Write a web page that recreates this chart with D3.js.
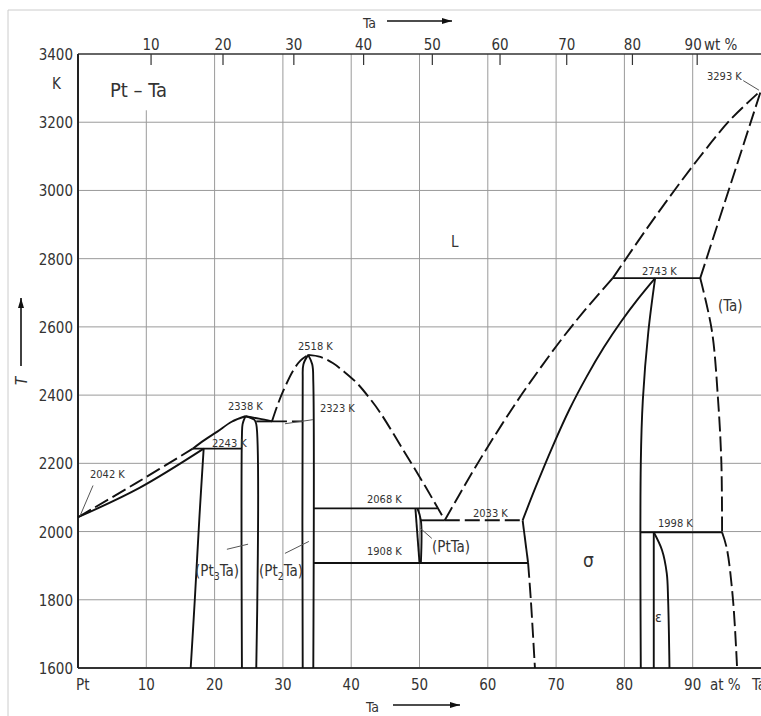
<!DOCTYPE html>
<html>
<head>
<meta charset="utf-8">
<script src="https://cdn.jsdelivr.net/npm/d3@7"></script>
<style>
body { margin: 0; background: #fff; }
text { font-family: "DejaVu Sans Condensed", "Liberation Sans Narrow", sans-serif; fill: #333; }
</style>
</head>
<body>
<svg width="761" height="716"></svg>
<script>
var svg = d3.select('svg');

// ---- data (at.% Ta, K) ----
var tempTicks = [1600, 1800, 2000, 2200, 2400, 2600, 2800, 3000, 3200, 3400];
var atTicks = [10, 20, 30, 40, 50, 60, 70, 80, 90];
var wtTicks = [10, 20, 30, 40, 50, 60, 70, 80, 90];

// liquidus
var liqPt      = [[0, 2042], [8.5, 2142], [16.8, 2243]];
var liqPt3TaL  = [[16.8, 2243], [18.5, 2268], [20.4, 2293], [22.5, 2322], [24.5, 2338]];
var liqPt3TaR  = [[24.5, 2338], [26.5, 2331], [28.4, 2323]];
var liqPt2TaL  = [[28.4, 2323], [29.2, 2370], [30.0, 2410], [31.5, 2472], [32.6, 2502], [33.7, 2518]];
var liqPt2TaR  = [[33.7, 2518], [35.5, 2512], [37.3, 2494], [39, 2468], [40.8, 2436], [42.5, 2396], [44.2, 2350], [47.5, 2243], [50.8, 2134], [53.7, 2033]];
var liqTaLow   = [[53.7, 2033], [56, 2114], [59, 2216], [62, 2312], [65, 2403], [68, 2488], [71, 2569], [74, 2644], [78.3, 2743]];
var liqTaHigh  = [[78.3, 2743], [83, 2880], [87.5, 3005], [91.5, 3110], [95.5, 3207], [100, 3293]];
// solidus / solvus / phase boundaries
var solPt      = [[0, 2042], [9, 2128], [18.4, 2243]];
var solvPt     = [[18.4, 2243], [17.8, 2050], [17.1, 1800], [16.5, 1600]];
var pt3TaL     = [[24.5, 2338], [24.1, 2315], [24.0, 2280], [24.0, 1600]];
var pt3TaR     = [[24.5, 2338], [25.8, 2328], [26.1, 2315], [26.1, 1600]];
var pt2TaL     = [[33.7, 2518], [33.0, 2490], [32.9, 2440], [32.9, 1600]];
var pt2TaR     = [[33.7, 2518], [34.3, 2490], [34.45, 2440], [34.45, 1600]];
var ptTaL      = [[49.4, 2068], [50.0, 1908]];
var ptTaR      = [[49.7, 2068], [50.2, 2033], [50.2, 1908]];
var sigmaL     = [[84.5, 2743], [82, 2682], [79.5, 2615], [77, 2540], [74.5, 2455], [72, 2360], [69.5, 2250], [67, 2130], [65.1, 2033]];
var sigmaLMid  = [[65.1, 2033], [65.9, 1908]];
var sigmaLLow  = [[65.9, 1908], [66.3, 1800], [66.9, 1600]];
var sigmaR     = [[84.5, 2743], [83.5, 2585], [82.7, 2386], [82.4, 2200], [82.4, 1600]];
var epsL       = [[84.3, 1998], [84.3, 1600]];
var epsR       = [[84.3, 1998], [85.5, 1946], [86.2, 1878], [86.4, 1800], [86.6, 1600]];
var solTa      = [[91.1, 2743], [100, 3293]];
var solvTaHigh = [[91.1, 2743], [92.8, 2590], [93.7, 2390], [94.2, 2200], [94.3, 1998]];
var solvTaLow  = [[94.3, 1998], [95.0, 1950], [95.9, 1800], [96.5, 1600]];
// invariant horizontals
var iso2243    = [[16.8, 2243], [24.0, 2243]];
var iso2323a   = [[26.1, 2323], [28.4, 2323]];
var iso2323b   = [[28.4, 2323], [32.9, 2323]];
var iso2068    = [[34.45, 2068], [52.6, 2068]];
var iso2033a   = [[50.2, 2033], [53.7, 2033]];
var iso2033b   = [[53.7, 2033], [65.1, 2033]];
var iso1908    = [[34.45, 1908], [65.9, 1908]];
var iso2743    = [[78.3, 2743], [91.1, 2743]];
var iso1998    = [[82.4, 1998], [94.3, 1998]];

var solidLines = [solPt, solvPt, liqPt3TaL, liqPt3TaR, pt3TaL, pt3TaR, pt2TaL, pt2TaR, ptTaL, ptTaR,
                  sigmaL, sigmaLMid, sigmaR, epsL, epsR, iso2243, iso2323a, iso2068, iso2033a, iso1908, iso2743, iso1998];
var dashedLines = [liqPt, liqPt2TaL, liqPt2TaR, liqTaLow, liqTaHigh, solTa, solvTaHigh, solvTaLow,
                   sigmaLLow, iso2323b, iso2033b];

// ---- scales ----
var x = d3.scaleLinear().domain([0, 100]).range([78, 761]);
var y = d3.scaleLinear().domain([1600, 3400]).range([668, 54]);

function wtToAt(w) {
    var a = w / 180.95, b = (100 - w) / 195.08;
    return 100 * a / (a + b);
}

// outer light frame
svg.append('line').attr('x1', 8).attr('x2', 8).attr('y1', 10).attr('y2', 716).attr('stroke', '#ccc');
svg.append('line').attr('x1', 8).attr('x2', 761).attr('y1', 10).attr('y2', 10).attr('stroke', '#ccc');

// grid
var grid = svg.append('g').attr('stroke', '#9a9a9a').attr('stroke-width', 1);
grid.selectAll('.hg').data(tempTicks.slice(1, -1)).enter().append('line')
    .attr('x1', x(0)).attr('x2', x(100))
    .attr('y1', function(d) { return y(d); }).attr('y2', function(d) { return y(d); });
grid.selectAll('.vg').data(atTicks).enter().append('line')
    .attr('x1', function(d) { return x(d); }).attr('x2', function(d) { return x(d); })
    .attr('y1', function(d) { return d == 10 ? y(3235) : y(3400); }).attr('y2', y(1600));

// wt% ticks at top
svg.append('g').selectAll('line').data(wtTicks).enter().append('line')
    .attr('x1', function(d) { return x(wtToAt(d)); }).attr('x2', function(d) { return x(wtToAt(d)); })
    .attr('y1', y(3400)).attr('y2', y(3400) + 11)
    .attr('stroke', '#333').attr('stroke-width', 1.2);

// frame
svg.append('line').attr('x1', x(0)).attr('x2', x(100)).attr('y1', y(3400)).attr('y2', y(3400)).attr('stroke', '#333').attr('stroke-width', 1.6);
svg.append('line').attr('x1', x(0)).attr('x2', x(100)).attr('y1', y(1600)).attr('y2', y(1600)).attr('stroke', '#333').attr('stroke-width', 2);
svg.append('line').attr('x1', x(0)).attr('x2', x(0)).attr('y1', y(3400)).attr('y2', y(1600)).attr('stroke', '#222').attr('stroke-width', 2);

// phase lines
var line = d3.line()
    .x(function(d) { return x(d[0]); })
    .y(function(d) { return y(d[1]); })
    .curve(d3.curveCatmullRom.alpha(0.5));

var phase = svg.append('g').attr('fill', 'none').attr('stroke', '#111').attr('stroke-width', 1.9);
phase.selectAll('.solid').data(solidLines).enter().append('path')
    .attr('d', line);
phase.selectAll('.dashed').data(dashedLines).enter().append('path')
    .attr('d', line)
    .attr('stroke-dasharray', '15,5');

// axis labels
var leftAx = svg.append('g').attr('font-size', 15).attr('text-anchor', 'end');
leftAx.selectAll('text').data(tempTicks).enter().append('text')
    .attr('x', 73).attr('y', function(d) { return y(d) + 6; })
    .text(function(d) { return d; });
svg.append('text').attr('x', 52).attr('y', 89).attr('font-size', 15).text('K');

var bottomAx = svg.append('g').attr('font-size', 15).attr('text-anchor', 'middle');
bottomAx.selectAll('text').data(atTicks).enter().append('text')
    .attr('x', function(d) { return x(d); }).attr('y', 690)
    .text(function(d) { return d; });
svg.append('text').attr('x', 76).attr('y', 690).attr('font-size', 15).text('Pt');
svg.append('text').attr('x', 710).attr('y', 690).attr('font-size', 15).text('at %');
svg.append('text').attr('x', 752).attr('y', 690).attr('font-size', 15).text('Ta');

var topAx = svg.append('g').attr('font-size', 15).attr('text-anchor', 'middle');
topAx.selectAll('text').data(wtTicks).enter().append('text')
    .attr('x', function(d) { return x(wtToAt(d)) - (d == 90 ? 4 : 0); }).attr('y', 50)
    .text(function(d) { return d; });
svg.append('text').attr('x', 704).attr('y', 50).attr('font-size', 15).text('wt %');

// axis titles with arrows
svg.append('defs').append('marker').attr('id', 'arr')
    .attr('viewBox', '0 0 10 6').attr('refX', 10).attr('refY', 3)
    .attr('markerWidth', 10).attr('markerHeight', 6).attr('markerUnits', 'userSpaceOnUse')
    .attr('orient', 'auto')
  .append('path').attr('d', 'M0,0L10,3L0,6Z').attr('fill', '#111');

function arrow(x1, y1, x2, y2) {
    svg.append('line').attr('x1', x1).attr('y1', y1).attr('x2', x2).attr('y2', y2)
        .attr('stroke', '#111').attr('stroke-width', 1.6).attr('marker-end', 'url(#arr)');
}
svg.append('text').attr('x', 363).attr('y', 28).attr('font-size', 14).text('Ta');
arrow(387, 21, 452, 21);
svg.append('text').attr('x', 366).attr('y', 712).attr('font-size', 14).text('Ta');
arrow(393, 705, 460, 705);
arrow(21, 366, 21, 298);
svg.append('text').attr('transform', 'translate(27,385) rotate(-90)')
    .attr('font-size', 15).attr('font-style', 'italic').text('T');

// title
svg.append('text').attr('x', 110).attr('y', 97).attr('font-size', 20).text('Pt \u2013 Ta');

// invariant temperature labels
var kLabels = [
    [2042, 90, 478], [2243, 212, 447], [2338, 228, 410], [2323, 320, 412], [2518, 298, 350],
    [2068, 367, 503], [1908, 367, 555], [2033, 473, 517], [2743, 642, 275], [1998, 658, 527], [3293, 707, 80]
];
svg.append('g').attr('font-size', 11).selectAll('text').data(kLabels).enter().append('text')
    .attr('x', function(d) { return d[1]; }).attr('y', function(d) { return d[2]; })
    .text(function(d) { return d[0] + ' K'; });

// pointer lines (data coordinates)
var pointers = [
    [[2.2, 2135], [0.3, 2046]],
    [[34.4, 2328], [30.3, 2316]],
    [[21.8, 1948], [24.9, 1963]],
    [[30.3, 1936], [33.8, 1971]],
    [[51.8, 1980], [50.1, 2010]],
    [[97.4, 3322], [99.7, 3294]]
];
svg.append('g').attr('stroke', '#555').attr('stroke-width', 1).selectAll('line').data(pointers).enter().append('line')
    .attr('x1', function(d) { return x(d[0][0]); }).attr('y1', function(d) { return y(d[0][1]); })
    .attr('x2', function(d) { return x(d[1][0]); }).attr('y2', function(d) { return y(d[1][1]); });

// phase labels
function phaseLabel(px, py, size, parts) {
    var t = svg.append('text').attr('x', px).attr('y', py).attr('font-size', size);
    parts.forEach(function(p) {
        var s = t.append('tspan').text(p[0]);
        if (p[1]) s.attr('font-size', size * 0.7).attr('dy', 4);
        else if (p[2]) s.attr('dy', -4);
    });
}
phaseLabel(195, 576, 15, [['(Pt'], ['3', true], ['Ta)', false, true]]);
phaseLabel(259, 576, 15, [['(Pt'], ['2', true], ['Ta)', false, true]]);
phaseLabel(432, 552, 15, [['(PtTa)']]);
phaseLabel(718, 311, 15, [['(Ta)']]);
svg.append('text').attr('x', 451).attr('y', 247).attr('font-size', 15).text('L');
svg.append('text').attr('x', 583).attr('y', 567).attr('font-size', 19).text('\u03c3');
svg.append('text').attr('x', 655).attr('y', 622).attr('font-size', 14).text('\u03b5');
</script>
</body>
</html>
